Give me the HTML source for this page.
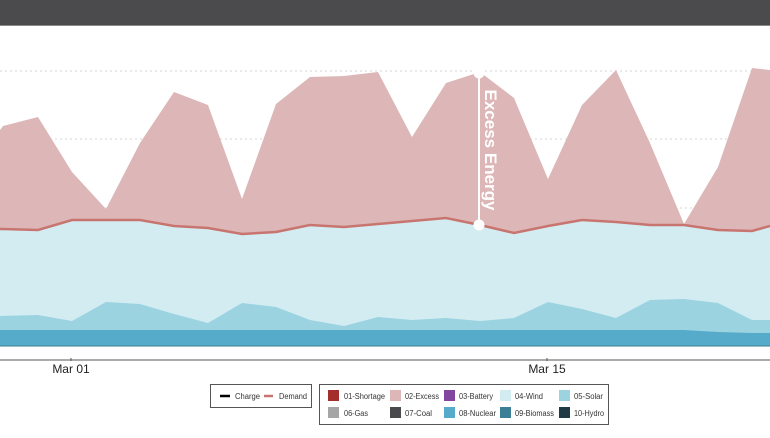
<!DOCTYPE html>
<html><head><meta charset="utf-8"><style>
body{margin:0;width:770px;height:433px;overflow:hidden;background:#fff;font-family:"Liberation Sans",sans-serif}
</style></head><body>
<svg width="770" height="433" viewBox="0 0 770 433" xmlns="http://www.w3.org/2000/svg" font-family="Liberation Sans, sans-serif">
<rect x="0" y="0" width="770" height="25" fill="#4b4b4d"/>
<rect x="0" y="25" width="770" height="1" fill="#8a8a8a"/>
<g stroke="#d6d6d6" stroke-dasharray="2,3" stroke-width="1">
<line x1="0" y1="71" x2="770" y2="71"/><line x1="0" y1="139" x2="770" y2="139"/><line x1="0" y1="208" x2="770" y2="208"/>
</g>
<polygon fill="#ddb7b7" points="0,130 3,126 38,117 72,172 106,209 140,143 174,92 208,105 242,199 276,104 310,77 344,76 378,72 412,137 446,83 480,72 514,98 548,179 582,105 616,70 650,143 684,224 718,167 752,68 770,70 770,226 752,231 718,230 684,225 650,225 616,222 582,220 548,226 514,233 480,225 446,218 412,221 378,224 344,227 310,225 276,232 242,234 208,228 174,226 140,220 106,220 72,220 38,230 3,229 0,229"/>
<polygon fill="#d3ecf2" points="0,229 3,229 38,230 72,220 106,220 140,220 174,226 208,228 242,234 276,232 310,225 344,227 378,224 412,221 446,218 480,225 514,233 548,226 582,220 616,222 650,225 684,225 718,230 752,231 770,226 770,346 0,346"/>
<polygon fill="#9bd3e1" points="0,316 38,315 72,321 106,302 140,304 174,314 208,323 242,303 276,307 310,320 344,326 378,317 412,320 446,318 480,321 514,318 548,302 582,309 616,318 650,300 684,299 718,303 752,320 770,320 770,346 0,346"/>
<polygon fill="#56abcb" points="0,330 684,330 718,332 752,333 770,333 770,346 0,346"/>
<line x1="0" y1="346" x2="770" y2="346" stroke="#3a7f96" stroke-width="1"/>
<polyline fill="none" stroke="#c87570" stroke-width="2.5" points="0,229 3,229 38,230 72,220 106,220 140,220 174,226 208,228 242,234 276,232 310,225 344,227 378,224 412,221 446,218 480,225 514,233 548,226 582,220 616,222 650,225 684,225 718,230 752,231 770,226"/>
<line x1="0" y1="360" x2="770" y2="360" stroke="#555" stroke-width="1"/>
<line x1="71" y1="358" x2="71" y2="361" stroke="#555"/><line x1="547" y1="358" x2="547" y2="361" stroke="#555"/>
<text x="71" y="373" font-size="12" text-anchor="middle" fill="#222">Mar 01</text>
<text x="547" y="373" font-size="12" text-anchor="middle" fill="#222">Mar 15</text>
<line x1="479" y1="73" x2="479" y2="225" stroke="#fff" stroke-width="2"/>
<circle cx="479" cy="73" r="5.5" fill="#fff"/><circle cx="479" cy="225" r="5.5" fill="#fff"/>
<text transform="translate(485,150) rotate(90)" font-size="17" font-weight="bold" fill="#fff" text-anchor="middle">Excess Energy</text>
<g font-size="8" fill="#333">
<rect x="210.5" y="384.5" width="101" height="23" fill="#fff" stroke="#555"/>
<line x1="220" y1="396" x2="230" y2="396" stroke="#000" stroke-width="2.5"/>
<text x="235" y="399" textLength="25" lengthAdjust="spacingAndGlyphs">Charge</text>
<line x1="264" y1="396" x2="273" y2="396" stroke="#c87570" stroke-width="2.5"/>
<text x="279" y="399" textLength="28" lengthAdjust="spacingAndGlyphs">Demand</text>
<rect x="319.5" y="384.5" width="289" height="40" fill="#fff" stroke="#555"/>
<rect x="328" y="390" width="11" height="11" fill="#a32e2c"/><text x="344" y="399" textLength="41" lengthAdjust="spacingAndGlyphs">01-Shortage</text>
<rect x="390" y="390" width="11" height="11" fill="#ddb7b7"/><text x="405" y="399" textLength="34" lengthAdjust="spacingAndGlyphs">02-Excess</text>
<rect x="444" y="390" width="11" height="11" fill="#8246a0"/><text x="459" y="399" textLength="34" lengthAdjust="spacingAndGlyphs">03-Battery</text>
<rect x="500" y="390" width="11" height="11" fill="#d3ecf2"/><text x="515" y="399" textLength="28" lengthAdjust="spacingAndGlyphs">04-Wind</text>
<rect x="559" y="390" width="11" height="11" fill="#9bd3e1"/><text x="574" y="399" textLength="29" lengthAdjust="spacingAndGlyphs">05-Solar</text>
<rect x="328" y="407" width="11" height="11" fill="#a6a6a6"/><text x="344" y="416" textLength="24" lengthAdjust="spacingAndGlyphs">06-Gas</text>
<rect x="390" y="407" width="11" height="11" fill="#4a4a4c"/><text x="405" y="416" textLength="27" lengthAdjust="spacingAndGlyphs">07-Coal</text>
<rect x="444" y="407" width="11" height="11" fill="#56abcb"/><text x="459" y="416" textLength="37" lengthAdjust="spacingAndGlyphs">08-Nuclear</text>
<rect x="500" y="407" width="11" height="11" fill="#3a7f96"/><text x="515" y="416" textLength="39" lengthAdjust="spacingAndGlyphs">09-Biomass</text>
<rect x="559" y="407" width="11" height="11" fill="#1f3a44"/><text x="574" y="416" textLength="30" lengthAdjust="spacingAndGlyphs">10-Hydro</text>
</g>
</svg>
</body></html>
